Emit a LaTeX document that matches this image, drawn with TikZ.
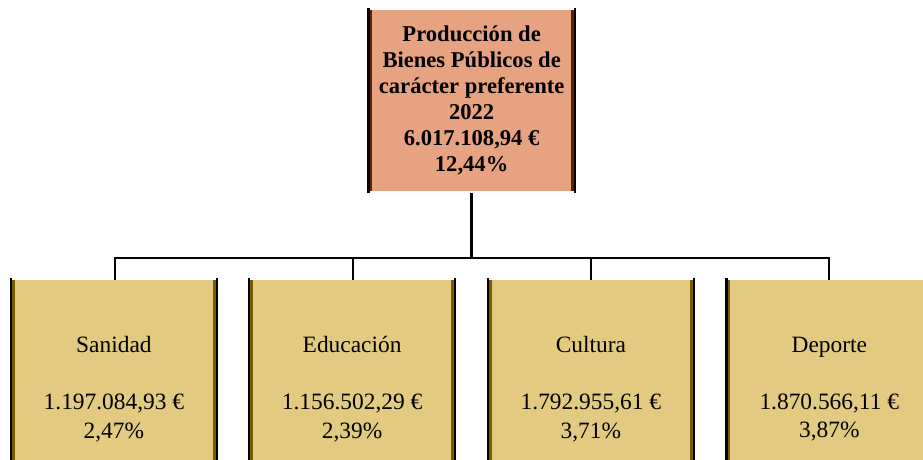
\documentclass[tikz,border=0pt]{standalone}
\usepackage{fontspec}
\setmainfont{Liberation Serif}
\usetikzlibrary{calc}
\definecolor{topfill}{HTML}{E6A281}
\definecolor{topedge}{HTML}{5E2208}
\definecolor{subfill}{HTML}{E3CA81}
\definecolor{subedge}{HTML}{7A5C00}
\tikzset{
  topbox/.style={rectangle, fill=topfill, inner sep=0pt, minimum width=208.7pt, minimum height=180pt,
     align=center, font=\bfseries\fontsize{22.6}{26}\selectfont},
  subbox/.style={rectangle, fill=subfill, inner sep=0pt, minimum width=207.7pt, minimum height=217.5pt,
     anchor=north, align=center, font=\fontsize{23.4}{28.5}\selectfont},
  bus/.style={line width=1.7pt, black},
  trunk/.style={line width=3pt, black},
}
\newcommand\boxbars[2]{%
  \fill[black] ([yshift=2.5pt]#1.north west) rectangle ([xshift=2.4pt,yshift=-2.5pt]#1.south west);
  \fill[#2] ([xshift=2.4pt]#1.north west) rectangle ([xshift=5.2pt]#1.south west);
  \fill[black] ([yshift=2.5pt]#1.north east) rectangle ([xshift=-2.4pt,yshift=-2.5pt]#1.south east);
  \fill[#2] ([xshift=-2.4pt]#1.north east) rectangle ([xshift=-5.2pt]#1.south east);
}
\begin{document}
\begin{tikzpicture}[x=1pt,y=1pt]
\useasboundingbox (0,0) rectangle (923,459);
\clip (0,0) rectangle (923,459);
\fill[white] (0,0) rectangle (923,459);
\node[topbox, text depth=4pt] (top) at (471.65,358.5) {Producción de\\Bienes Públicos de\\carácter preferente\\2022\\6.017.108,94 €\\12,44\%};
\boxbars{top}{topedge}
\node[subbox] (s1) at (113.9,179) {Sanidad\\[28.5pt]1.197.084,93 €\\2,47\%};
\node[subbox] (s2) at (352.1,179) {Educación\\[28.5pt]1.156.502,29 €\\2,39\%};
\node[subbox] (s3) at (590.9,179) {Cultura\\[28.5pt]1.792.955,61 €\\3,71\%};
\node[subbox] (s4) at (829.3,179) {Deporte\\[28.5pt]1.870.566,11 €\\3,87\%};
\boxbars{s1}{subedge}
\boxbars{s2}{subedge}
\boxbars{s3}{subedge}
\boxbars{s4}{subedge}
\coordinate (busy) at (0,201);
\draw[trunk] ([yshift=-2.5pt]top.south) -- (top.south |- busy);
\draw[bus] ([xshift=1pt]s1.north) -- ([xshift=1pt]s1.north |- busy) -- (s4.north |- busy) -- (s4.north);
\draw[bus] ([xshift=1pt]s2.north) -- ([xshift=1pt]s2.north |- busy);
\draw[bus] (s3.north) -- (s3.north |- busy);
\end{tikzpicture}
\end{document}
